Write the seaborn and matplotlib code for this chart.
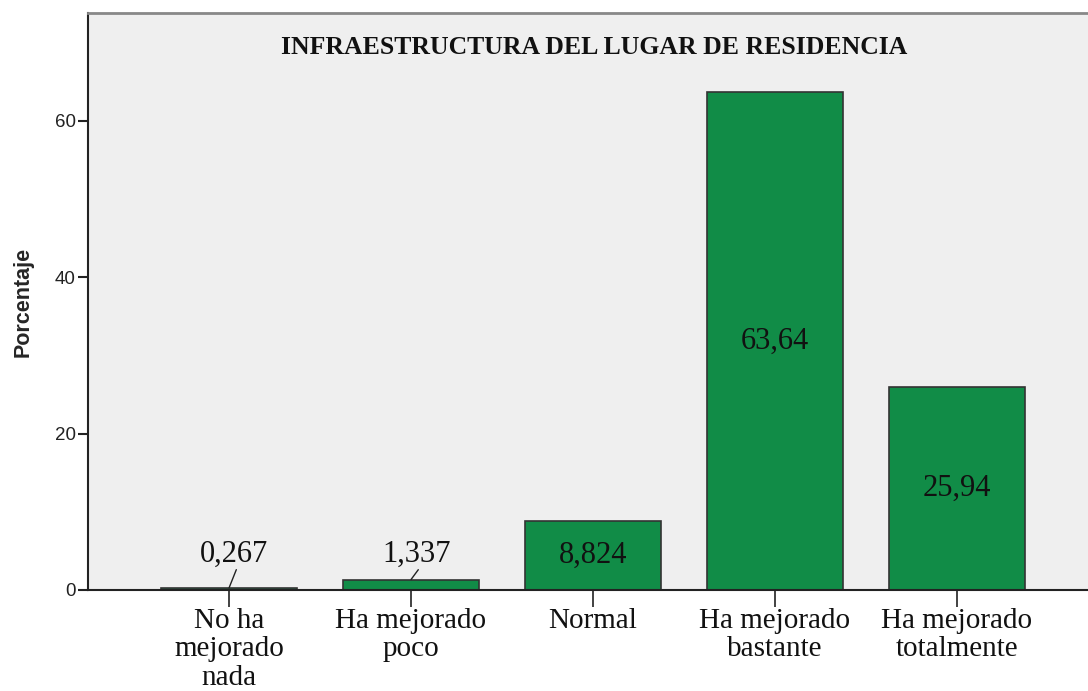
import matplotlib.pyplot as plt
import seaborn as sns
import pandas as pd

categories = ["No ha\nmejorado\nnada", "Ha mejorado\npoco", "Normal",
              "Ha mejorado\nbastante", "Ha mejorado\ntotalmente"]
percentages = [0.267, 1.337, 8.824, 63.64, 25.94]
value_labels = ["0,267", "1,337", "8,824", "63,64", "25,94"]
y_ticks = [0, 20, 40, 60]

df = pd.DataFrame({"Categoria": categories, "Porcentaje": percentages})

sns.set_style("ticks")
fig = plt.figure(figsize=(10.88, 6.91), dpi=100)
ax = fig.add_axes([88 / 1088, 101 / 691, 1000 / 1088, 577 / 691])
ax.set_facecolor("#efefef")

sns.barplot(x="Categoria", y="Porcentaje", data=df, color="#118c47",
            saturation=1, width=0.75, edgecolor="#333333", linewidth=1.2, ax=ax)

ax.set_ylim(0, 73.8)
ax.set_xlim(-0.775, 4.72)
ax.set_yticks(y_ticks)
ax.set_yticklabels([str(t) for t in y_ticks], fontsize=13.5, family="Liberation Sans", color="#222222")
ax.set_xticks(range(len(categories)))
ax.set_xticklabels(categories, fontsize=21, family="Liberation Serif", linespacing=1.12, color="#111111")
ax.tick_params(axis="y", length=7, width=1.5, color="#222222", pad=2)
ax.tick_params(axis="x", length=12, width=1.2, color="#222222", pad=1)

ax.set_xlabel("")
ax.set_ylabel("Porcentaje", fontsize=15.5, fontweight="bold", family="Liberation Sans", labelpad=15)

for side in ["left", "bottom"]:
    ax.spines[side].set_color("#222222")
    ax.spines[side].set_linewidth(1.5)
ax.spines["top"].set_color("#888888")
ax.spines["top"].set_linewidth(2)
ax.spines["right"].set_visible(False)

ax.text(0.506, 0.94, "INFRAESTRUCTURA DEL LUGAR DE RESIDENCIA", transform=ax.transAxes,
        ha="center", va="center", fontsize=18.5, fontweight="bold", family="Liberation Serif",
        color="#111111")

# value labels: inside the bar when tall enough, otherwise above with a leader line
for i, (v, lab) in enumerate(zip(percentages, value_labels)):
    if v > 5:
        ax.text(i, v / 2, lab, ha="center", va="center", fontsize=22,
                family="Liberation Serif", color="#111111")
    else:
        ax.text(i + 0.03, 4.6, lab, ha="center", va="center", fontsize=22,
                family="Liberation Serif", color="#111111")
        ax.plot([i + 0.04, i], [2.6, v], color="#222222", linewidth=1)

plt.savefig("out.png", dpi=100)
plt.close()
